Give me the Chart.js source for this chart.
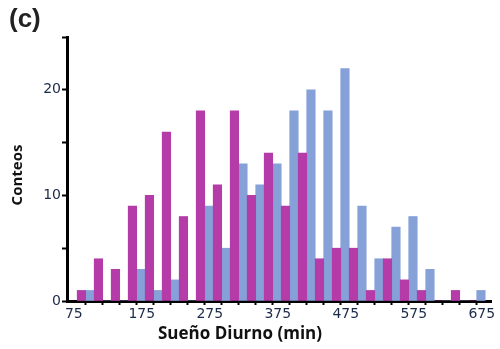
<!DOCTYPE html>
<html>
<head>
<meta charset="utf-8">
<script src="https://cdn.jsdelivr.net/npm/chart.js@4/dist/chart.umd.min.js"></script>
<style>
  html, body { margin: 0; padding: 0; background: #ffffff; }
  #wrap { width: 500px; height: 349px; position: relative; }
</style>
</head>
<body>
<div id="wrap"><canvas id="chart" width="500" height="349"></canvas></div>
<script>
// Histogram of daytime sleep (minutes), 25-minute bins
const binCenters = [92.5, 117.5, 142.5, 167.5, 192.5, 217.5, 242.5, 267.5, 292.5, 317.5, 342.5, 367.5,
                    392.5, 417.5, 442.5, 467.5, 492.5, 517.5, 542.5, 567.5, 592.5, 617.5, 642.5, 667.5];
const groupA = [1, 4, 3, 9, 10, 16, 8, 18, 11, 18, 10, 14, 9, 14, 4, 5, 5, 1, 4, 2, 1, 0, 1, 0];
const groupB = [1, 0, 0, 3, 1, 2, 0, 9, 5, 13, 11, 13, 18, 20, 18, 22, 9, 4, 7, 8, 3, 0, 0, 1];
const xTickLabels = [75, 175, 275, 375, 475, 575, 675];
const yTickLabels = [0, 10, 20];

const colorA = '#B43BA8';
const colorB = '#86A0D8';
const tickTextColor = '#1b2a48';

const toPoints = (vals) => binCenters.map((x, i) => ({ x: x, y: vals[i] }));

// Panel letter and axis titles
const textPlugin = {
  id: 'panelText',
  afterDraw(chart) {
    const ctx = chart.ctx;
    ctx.save();
    ctx.fillStyle = '#222222';
    ctx.font = 'bold 26px "Liberation Sans", Arial, sans-serif';
    ctx.textAlign = 'left';
    ctx.textBaseline = 'alphabetic';
    ctx.fillText('(c)', 9, 27);

    ctx.fillStyle = '#111111';
    ctx.font = 'bold 17px "Open Sans", sans-serif';
    ctx.textAlign = 'center';
    ctx.textBaseline = 'middle';
    ctx.fillText('Sueño Diurno (min)', 240, 334);

    ctx.translate(18, 175);
    ctx.rotate(-Math.PI / 2);
    ctx.font = 'bold 15px "Open Sans", sans-serif';
    ctx.fillText('Conteos', 0, 0);
    ctx.restore();
  }
};

const barStyle = { borderWidth: 0, barThickness: 'flex', barPercentage: 1, categoryPercentage: 1 };

new Chart(document.getElementById('chart'), {
  type: 'bar',
  data: {
    datasets: [
      Object.assign({ data: toPoints(groupA), backgroundColor: colorA }, barStyle),
      Object.assign({ data: toPoints(groupB), backgroundColor: colorB }, barStyle)
    ]
  },
  options: {
    responsive: false,
    animation: false,
    layout: { padding: { left: 0, right: 9, top: 37, bottom: 0 } },
    plugins: { legend: { display: false }, tooltip: { enabled: false }, title: { display: false } },
    scales: {
      x: {
        type: 'linear',
        min: 65,
        max: 688.5,
        offset: false,
        z: 1,
        border: { display: true, color: '#000000', width: 3 },
        grid: {
          offset: false,
          drawOnChartArea: false,
          drawTicks: true,
          tickLength: 4,
          tickWidth: 2,
          color: (ctx) => (ctx.tick && xTickLabels.includes(ctx.tick.value)) ? 'rgba(0,0,0,0)' : '#000000'
        },
        afterBuildTicks: (scale) => {
          const vals = binCenters.concat(xTickLabels).sort((a, b) => a - b);
          scale.ticks = vals.map(v => ({ value: v }));
        },
        afterFit: (scale) => { scale.height = 48; },
        ticks: {
          autoSkip: false,
          maxRotation: 0,
          minRotation: 0,
          padding: 1,
          color: tickTextColor,
          font: { family: '"DejaVu Sans", sans-serif', size: 14 },
          callback: (value) => xTickLabels.includes(value) ? String(value) : ''
        }
      },
      y: {
        min: 0,
        max: 25,
        z: 1,
        border: { display: true, color: '#000000', width: 3 },
        grid: {
          drawOnChartArea: false,
          drawTicks: true,
          tickLength: 5,
          tickWidth: 2,
          color: '#000000'
        },
        afterFit: (scale) => { scale.width = 67; },
        ticks: {
          stepSize: 5,
          padding: 1,
          color: tickTextColor,
          font: { family: '"DejaVu Sans", sans-serif', size: 14 },
          callback: (value) => yTickLabels.includes(value) ? String(value) : ''
        }
      }
    }
  },
  plugins: [textPlugin]
});
</script>
</body>
</html>
